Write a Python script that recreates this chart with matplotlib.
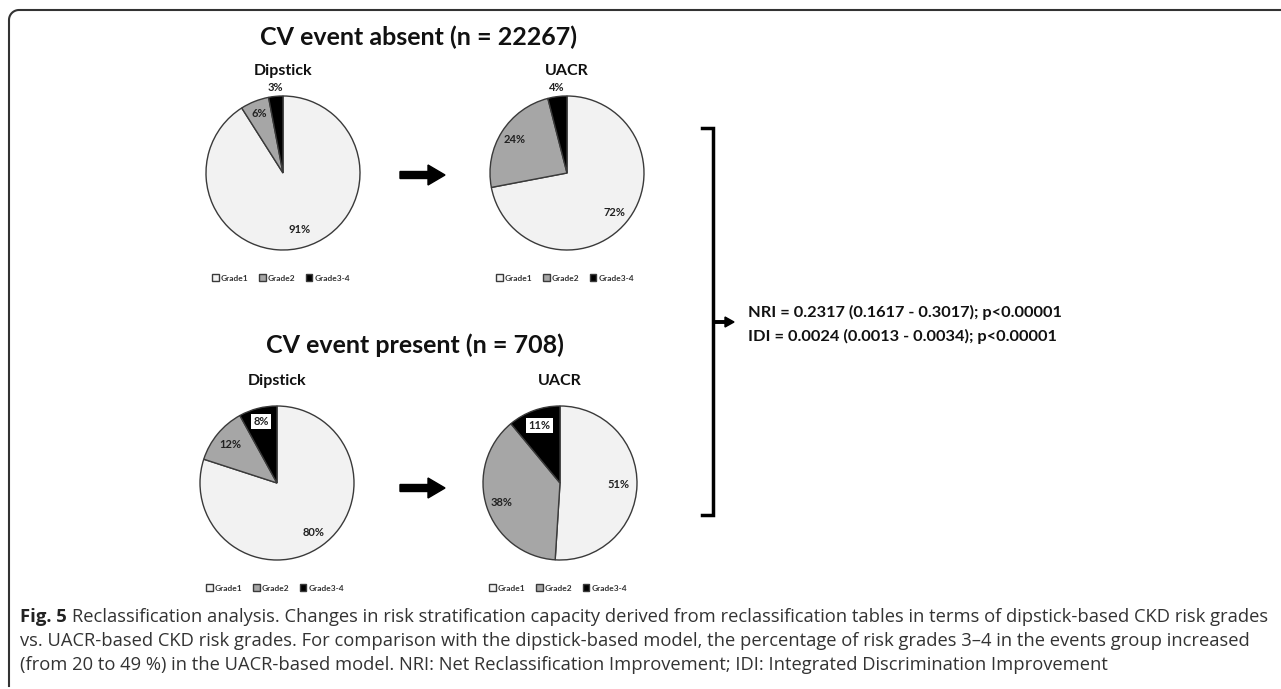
import numpy as np
import matplotlib
matplotlib.use('Agg')
import matplotlib.pyplot as plt
from matplotlib.patches import FancyArrow

# data
grades = ['Grade1', 'Grade2', 'Grade3-4']
absent_dipstick = [91, 6, 3]
absent_uacr = [72, 24, 4]
present_dipstick = [80, 12, 8]
present_uacr = [51, 38, 11]
titles = ['CV event absent (n = 22267)', 'CV event present (n = 708)']
nri_text = 'NRI = 0.2317 (0.1617 - 0.3017); p<0.00001'
idi_text = 'IDI = 0.0024 (0.0013 - 0.0034); p<0.00001'
caption_lines = [
    'Reclassification analysis. Changes in risk stratification capacity derived from reclassification tables in terms of dipstick-based CKD risk grades',
    'vs. UACR-based CKD risk grades. For comparison with the dipstick-based model, the percentage of risk grades 3\u20134 in the events group increased',
    '(from 20 to 49 %) in the UACR-based model. NRI: Net Reclassification Improvement; IDI: Integrated Discrimination Improvement',
]

colors = ['#f2f2f2', '#a6a6a6', '#000000']
W, H = 1281, 689
plt.rcParams['font.family'] = ['Lato', 'DejaVu Sans']

fig = plt.figure(figsize=(W / 100, H / 100), dpi=100)
bg = fig.add_axes([0, 0, 1, 1])
bg.set_xlim(0, W)
bg.set_ylim(H, 0)
bg.axis('off')


def draw_pie(values, cx, cy, r, name, dists, boxed):
    ax = fig.add_axes([(cx - r) / W, 1 - (cy + r) / H, 2 * r / W, 2 * r / H])
    wedges, _ = ax.pie(values, colors=colors, startangle=90, counterclock=False,
                       wedgeprops=dict(edgecolor='#3a3a3a', linewidth=1))
    ax.set_xlim(-1, 1)
    ax.set_ylim(-1, 1)
    for w, v, d, b in zip(wedges, values, dists, boxed):
        ang = np.deg2rad((w.theta1 + w.theta2) / 2)
        kw = dict(facecolor='white', edgecolor='none', pad=1.5) if b else None
        ax.text(d * np.cos(ang), d * np.sin(ang), f'{v}%', ha='center', va='center',
                fontsize=8, fontweight='bold', color='#222222', bbox=kw)
    bg.text(cx, cy - r - 25, name, ha='center', va='center', fontsize=11.5,
            fontweight='bold', color='#111111')
    leg = fig.legend(wedges, grades, loc='center',
                     bbox_to_anchor=((cx - 2) / W, 1 - (cy + r + 28) / H),
                     ncol=3, frameon=False, fontsize=6, handlelength=0.8,
                     handleheight=0.8, handletextpad=0.2, columnspacing=1.3)
    for t in leg.get_texts():
        t.set_fontweight('bold')
        t.set_color('#333333')
    return ax


draw_pie(absent_dipstick, 283, 173, 77, 'Dipstick', [0.77, 0.83, 1.12], [0, 0, 0])
draw_pie(absent_uacr, 567, 173, 77, 'UACR', [0.8, 0.8, 1.12], [0, 0, 0])
draw_pie(present_dipstick, 277, 483, 77, 'Dipstick', [0.8, 0.79, 0.82], [0, 0, 1])
draw_pie(present_uacr, 560, 483, 77, 'UACR', [0.76, 0.8, 0.79], [0, 0, 1])

bg.text(418, 37, titles[0], ha='center', va='center', fontsize=18, fontweight='bold', color='#111111')
bg.text(415, 345, titles[1], ha='center', va='center', fontsize=18, fontweight='bold', color='#111111')

# arrows between pies
for y in [175, 488]:
    bg.add_patch(FancyArrow(400, y, 45, 0, width=7, head_width=20, head_length=17,
                            length_includes_head=True, color='black'))

# bracket
bg.plot([702, 713, 713, 702], [128, 128, 515, 515], color='black', lw=2.5,
        solid_joinstyle='miter')
bg.add_patch(FancyArrow(713, 322, 21, 0, width=2.5, head_width=10, head_length=9,
                        length_includes_head=True, color='black'))
bg.text(748, 312, nri_text, ha='left', va='center', fontsize=11.8, fontweight='bold', color='#111111')
bg.text(748, 336, idi_text, ha='left', va='center', fontsize=11.8, fontweight='bold', color='#111111')

# frame
t = np.linspace(np.pi, 1.5 * np.pi, 20)
bx = np.concatenate([[9, 9], 19 + 10 * np.cos(t), [W]])
by = np.concatenate([[686, 20], 20 + 10 * np.sin(t), [10]])
bg.plot(bx, by, color='#333333', lw=1.5)

# caption
r = fig.canvas.get_renderer()
fig_lbl = bg.text(20, 617, 'Fig. 5', ha='left', va='center', fontsize=13.3,
                  fontweight='bold', color='#222222', family='Open Sans')
ext = fig_lbl.get_window_extent(renderer=r)
cap_kw = dict(ha='left', va='center', fontsize=13.2, color='#333333', family='Open Sans')
bg.text(ext.x1 + 5, 617, caption_lines[0], **cap_kw)
bg.text(20, 641, caption_lines[1], **cap_kw)
bg.text(20, 665, caption_lines[2], **cap_kw)

fig.savefig('out.png', dpi=100)
